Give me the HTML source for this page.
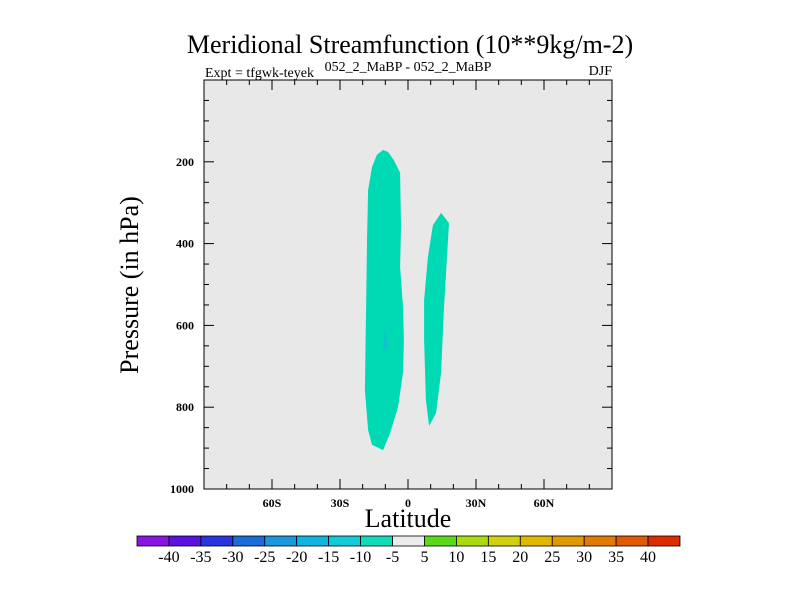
<!DOCTYPE html>
<html><head><meta charset="utf-8"><style>
html,body{margin:0;padding:0;background:#fff;}
svg{display:block;font-family:"Liberation Serif",serif;}
</style></head><body>
<svg id="chart" width="800" height="600" viewBox="0 0 800 600">
<text x="410" y="53" font-size="26" text-anchor="middle">Meridional Streamfunction (10**9kg/m-2)</text>
<text x="205" y="77" font-size="14">Expt = tfgwk-teyek</text>
<text x="408" y="71" font-size="14" text-anchor="middle">052_2_MaBP - 052_2_MaBP</text>
<text x="612" y="75" font-size="14" text-anchor="end">DJF</text>
<rect x="204" y="80" width="408" height="409" fill="#e8e8e8"/>
<g id="marks"></g>
<rect x="204" y="80" width="408" height="409" fill="none" stroke="#000" stroke-width="1"/>
<g id="axes"></g>
<text x="408" y="527" font-size="26" text-anchor="middle">Latitude</text>
<text transform="translate(138,285) rotate(-90)" font-size="26" text-anchor="middle">Pressure (in hPa)</text>
<g id="colorbar"></g>
</svg>
<script>
const latTicks=[-60,-30,0,30,60];
const latLabels=["60S","30S","0","30N","60N"];
const presTicks=[200,400,600,800,1000];
const leftLat=[-11.0,-8.8,-6.2,-3.5,-3.1,-3.5,-2.2,-1.8,-2.2,-4.4,-7.9,-11.0,-15.9,-17.6,-19.0,-18.5,-18.1,-17.6,-15.9,-13.7];
const leftPres=[171,176,196,227,359,457,555,636,716,800,863,905,892,856,758,555,391,269,213,183];
const rightLat=[14.6,18.1,17.2,15.9,14.6,12.4,9.3,7.9,7.1,7.1,8.8,11.0];
const rightPres=[325,350,433,555,716,814,846,782,636,538,433,355];
const spotLat=[-10.6,-8.4,-11.0];
const spotPres=[611,653,665];
const cbLabels=["-40","-35","-30","-25","-20","-15","-10","-5","5","10","15","20","25","30","35","40"];
const cbColors=["#8a14e2","#5a12de","#2a34de","#1a6cd8","#1a98de","#10b4e0","#10ccd8","#10dcb8","#ebebeb","#5ad81a","#a8dc10","#d2d010","#e0b800","#e09a00","#e07a00","#e05a00","#dd2c00"];
const NS="http://www.w3.org/2000/svg";
const X0=204,X1=612,Y0=80,Y1=489;
function xS(lat){return X0+(lat+90)/180*(X1-X0);}
function yS(p){return Y0+p/1000*(Y1-Y0);}
function mk(t,a,parent){const e=document.createElementNS(NS,t);for(const k in a)e.setAttribute(k,a[k]);parent.appendChild(e);return e;}
const marks=document.getElementById('marks');
function poly(lats,ps,fill,name){
  const pts=lats.map((l,i)=>xS(l).toFixed(1)+","+yS(ps[i]).toFixed(1)).join(" ");
  const e=mk('polygon',{points:pts,fill:fill},marks);
  
  
}
poly(leftLat,leftPres,"#00dab4","contour-southern-cell");
poly(rightLat,rightPres,"#00dab4","contour-northern-cell");
poly(spotLat,spotPres,"#10c4cc","contour-core");
const axes=document.getElementById('axes');
for(let l=-80;l<=80;l+=10){
  const major=l%30===0;const len=major?10:5;
  const x=xS(l);
  mk('line',{x1:x,x2:x,y1:Y1,y2:Y1-len,stroke:"#000"},axes);
  mk('line',{x1:x,x2:x,y1:Y0,y2:Y0+len,stroke:"#000"},axes);
}
for(let p=50;p<1000;p+=50){
  const major=p%200===0;const len=major?10:5;const y=yS(p);
  mk('line',{x1:X0,x2:X0+len,y1:y,y2:y,stroke:"#000"},axes);
  mk('line',{x1:X1,x2:X1-len,y1:y,y2:y,stroke:"#000"},axes);
}
latTicks.forEach((l,i)=>{
  const t=mk('text',{x:xS(l),y:Y1+18,'font-size':12,'font-weight':'bold','text-anchor':'middle'},axes);
  t.textContent=latLabels[i];
  
  
});
presTicks.forEach(p=>{
  const t=mk('text',{x:X0-10,y:yS(p)+4,'font-size':12,'font-weight':'bold','text-anchor':'end'},axes);
  t.textContent=p;
  
  
});
const cb=document.getElementById('colorbar');
const CB0=137,CB1=680,CBY=536,CBH=10;const w=(CB1-CB0)/cbColors.length;
cbColors.forEach((c,i)=>{
  const r=mk('rect',{x:CB0+i*w,y:CBY,width:w,height:CBH,fill:c,stroke:"#000",'stroke-width':0.8},cb);
  
  
});
cbLabels.forEach((s,i)=>{
  const t=mk('text',{x:CB0+(i+1)*w,y:CBY+26,'font-size':16,'text-anchor':'middle'},cb);
  t.textContent=s;
  
  
});
</script>
</body></html>
